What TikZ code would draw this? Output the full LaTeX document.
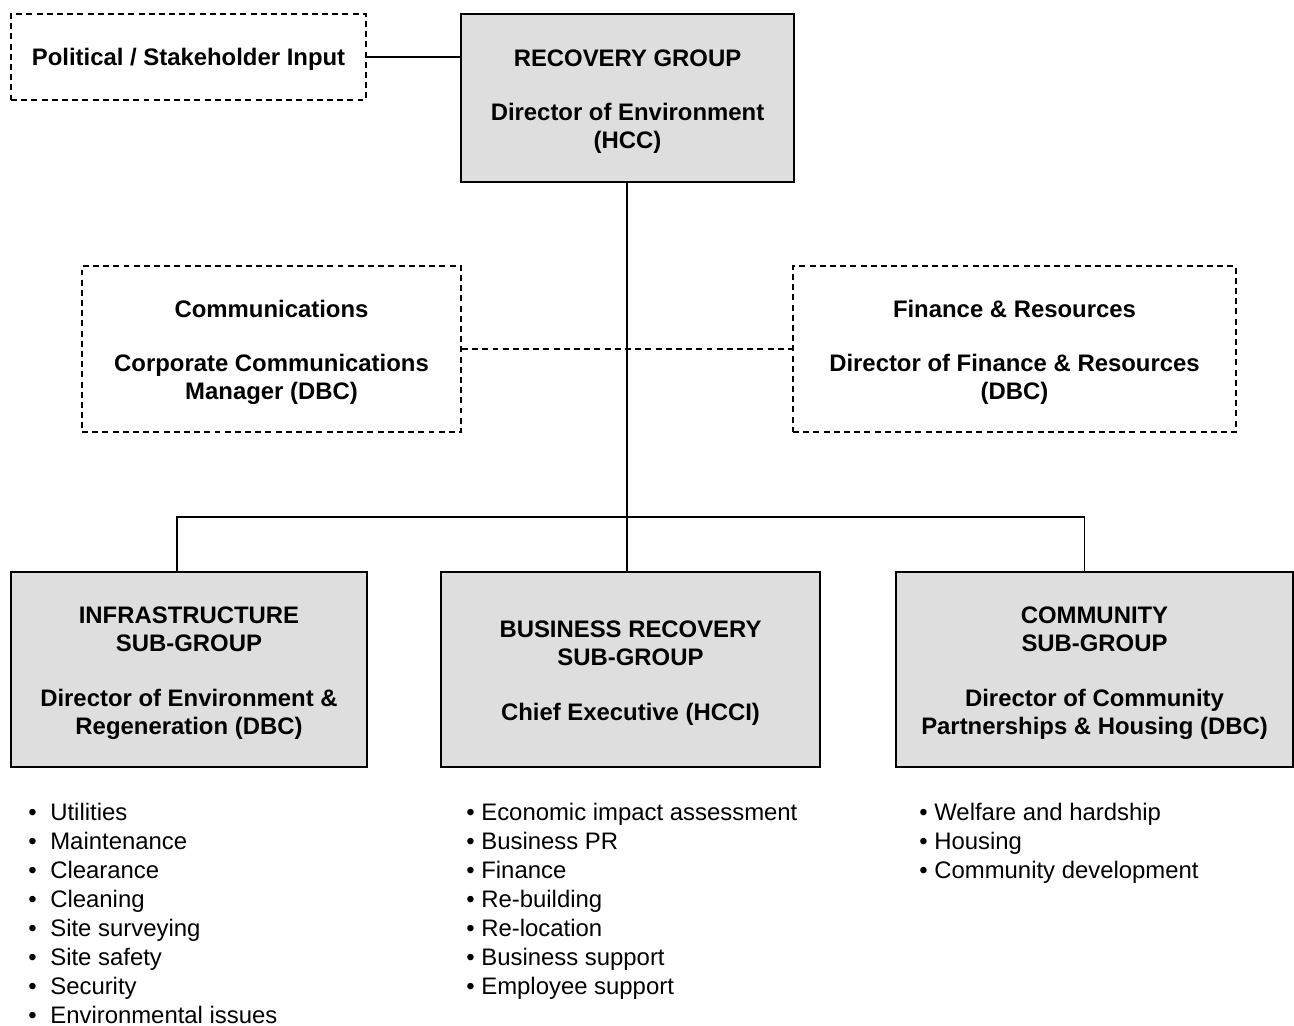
\documentclass[tikz,border=0pt]{standalone}
\usepackage{fontspec}
\setmainfont{Liberation Sans}
\usetikzlibrary{positioning}
\colorlet{boxgray}{black!13}
\tikzset{
  group/.style={draw, line width=1.1pt, fill=boxgray, align=center, inner sep=0pt,
    font=\bfseries\fontsize{13.6}{16}\selectfont},
  advisory/.style={draw, line width=1.1pt, dash pattern=on 3.4pt off 2.4pt, align=center, inner sep=0pt,
    font=\bfseries\fontsize{13.6}{16}\selectfont},
  duties/.style={anchor=north west, align=left, inner sep=0pt,
    font=\fontsize{13.6}{16.5}\selectfont},
  link/.style={line width=1.1pt}
}
% a little extra room above the first line of a box
\newcommand{\hd}{\rule{0pt}{13.5pt}}
\newcommand{\duty}[2][0.3cm]{\makebox[#1][l]{\textbullet}#2}

\begin{document}
\begin{tikzpicture}[x=0.02cm, y=-0.02cm]
  \useasboundingbox (0,0) rectangle (1294,1025);

  \node[group, minimum width=6.66cm, minimum height=3.36cm] (rec) at (627.5,98)
    {\hd RECOVERY GROUP\\[15pt]Director of Environment\\(HCC)};
  \node[advisory, minimum width=7.1cm, minimum height=1.72cm] (pol) at (188.5,57)
    {\rule{0pt}{12.5pt}Political / Stakeholder Input};
  \node[advisory, minimum width=7.58cm, minimum height=3.32cm] (comm) at (271.5,349)
    {\hd Communications\\[15pt]Corporate Communications\\Manager (DBC)};
  \node[advisory, minimum width=8.86cm, minimum height=3.32cm] (fin) at (1014.5,349)
    {\hd Finance \& Resources\\[15pt]Director of Finance \& Resources\\(DBC)};

  \node[group, minimum width=7.12cm, minimum height=3.9cm] (infra) at (189,669.5)
    {\hd INFRASTRUCTURE\\SUB-GROUP\\[15pt]Director of Environment \&\\Regeneration (DBC)};
  \node[group, minimum width=7.58cm, minimum height=3.9cm] (bus) at (630.5,669.5)
    {\hd BUSINESS RECOVERY\\SUB-GROUP\\[15pt]Chief Executive (HCCI)};
  \node[group, minimum width=7.94cm, minimum height=3.9cm] (comty) at (1094.5,669.5)
    {\hd COMMUNITY\\SUB-GROUP\\[15pt]Director of Community\\Partnerships \& Housing (DBC)};

  \coordinate (split) at (627,517);

  \draw[link] (pol.east) -- (pol.east -| rec.west);
  \draw[link, dash pattern=on 3.4pt off 2.4pt] (comm.east) -- (fin.west);
  \draw[link] (rec.south -| split) -- (split);
  \draw[link] (split) -- (split |- bus.north);
  \draw[link] (split) -| ([xshift=-0.24cm]infra.north);
  \draw[link] (split) -| ([xshift=-0.2cm]comty.north);

  \node[duties] (infra duties) at (28,803)
    {\duty[0.44cm]{Utilities}\\\duty[0.44cm]{Maintenance}\\\duty[0.44cm]{Clearance}\\
     \duty[0.44cm]{Cleaning}\\\duty[0.44cm]{Site surveying}\\\duty[0.44cm]{Site safety}\\
     \duty[0.44cm]{Security}\\\duty[0.44cm]{Environmental issues}};
  \node[duties] (bus duties) at (466,803)
    {\duty{Economic impact assessment}\\\duty{Business PR}\\\duty{Finance}\\
     \duty{Re-building}\\\duty{Re-location}\\\duty{Business support}\\\duty{Employee support}};
  \node[duties] (comty duties) at (919,803)
    {\duty{Welfare and hardship}\\\duty{Housing}\\\duty{Community development}};
\end{tikzpicture}
\end{document}
